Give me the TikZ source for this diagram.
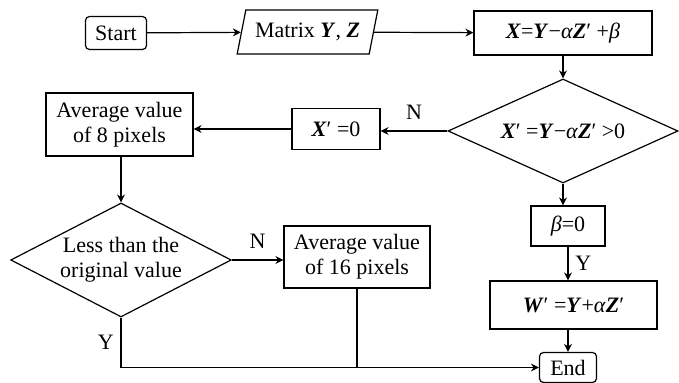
\documentclass[tikz,border=0pt]{standalone}
\usepackage{fontspec}
\setmainfont{Liberation Serif}
\usetikzlibrary{shapes.geometric, arrows.meta, positioning}
\newcommand{\mvec}[1]{\textbf{\textit{#1}}}
\tikzset{
    box/.style={draw, rectangle, line width=0.6pt, align=center, font=\fontsize{11}{12.5}\selectfont, inner sep=2pt},
    term/.style={box, rounded corners=2pt},
    io/.style={box, trapezium, trapezium left angle=73, trapezium right angle=107, trapezium stretches=true},
    decision/.style={box, diamond, aspect=2.2, inner sep=0pt},
    flowarrow/.style={-{Stealth[length=4pt, width=4pt]}, line width=0.6pt},
    flowline/.style={line width=0.6pt},
    branch/.style={font=\fontsize{11}{12.5}\selectfont},
}
\begin{document}
\begin{tikzpicture}[x=0.5pt, y=-0.5pt]
    \useasboundingbox (0,0) rectangle (679,383);
    % Top row
    \node[term, minimum width=30.5pt, minimum height=16.5pt] (start) at (116,33) {Start};
    \node[io, minimum width=70.5pt, minimum height=22pt] (matrix) at (307.5,32) {Matrix \mvec{Y}, \mvec{Z}};
    \node[box, minimum width=89pt, minimum height=22pt] (calc) at (563,33) {\mvec{X}=\mvec{Y}−\textit{α}\mvec{Z}′ +\textit{β}};

    % Main test
    \node[decision, minimum width=115pt, minimum height=52pt] (check) at (563,131) {\mvec{X}′ =\mvec{Y}−\textit{α}\mvec{Z}′ >0};
    \node[box, minimum width=44pt, minimum height=20.5pt] (xzero) at (336,129) {\mvec{X}′ =0};
    \node[box, minimum width=73.5pt, minimum height=31.5pt] (avgeight) at (119.5,124.5) {Average value\\of 8 pixels};

    % Left branch
    \node[decision, minimum width=109.5pt, minimum height=57pt] (less) at (121,260) {Less than the\\original value};
    \node[box, minimum width=73pt, minimum height=31pt] (avgsixteen) at (357,257) {Average value\\of 16 pixels};

    % Right branch
    \node[box, minimum width=37pt, minimum height=20pt] (betazero) at (568,226) {\textit{β}=0};
    \node[box, minimum width=83.5pt, minimum height=24pt] (wout) at (573.5,305) {\mvec{W}′ =\mvec{Y}+\textit{α}\mvec{Z}′};
    \node[term, minimum width=28.5pt, minimum height=15pt] (finish) at (568,367.5) {End};

    % Flow
    \draw[flowarrow] (start) -- (matrix);
    \draw[flowarrow] (matrix) -- (calc);
    \draw[flowarrow] (calc) -- (check);
    \draw[flowarrow] (check.west) -- node[branch, above, yshift=2pt] {N} (check.west -| xzero.east);
    \draw[flowarrow] (xzero.west) -- (xzero.west -| avgeight.east);
    \draw[flowarrow] (avgeight.south -| less.north) -- (less.north);
    \draw[flowarrow] (less.east) -- node[branch, above, yshift=2pt] {N} (less.east -| avgsixteen.west);
    \draw[flowarrow] (check.south) -- (check.south |- betazero.north);
    \draw[flowarrow] (betazero.south) -- node[branch, right] {Y} (betazero.south |- wout.north);
    \draw[flowarrow] (finish.north |- wout.south) -- (finish.north);
    \draw[flowarrow] (less.south) |- node[branch, left, pos=0.25] {Y} (finish.west);
    \draw[flowline] (avgsixteen.south) -- (avgsixteen.south |- finish.west);
\end{tikzpicture}
\end{document}
